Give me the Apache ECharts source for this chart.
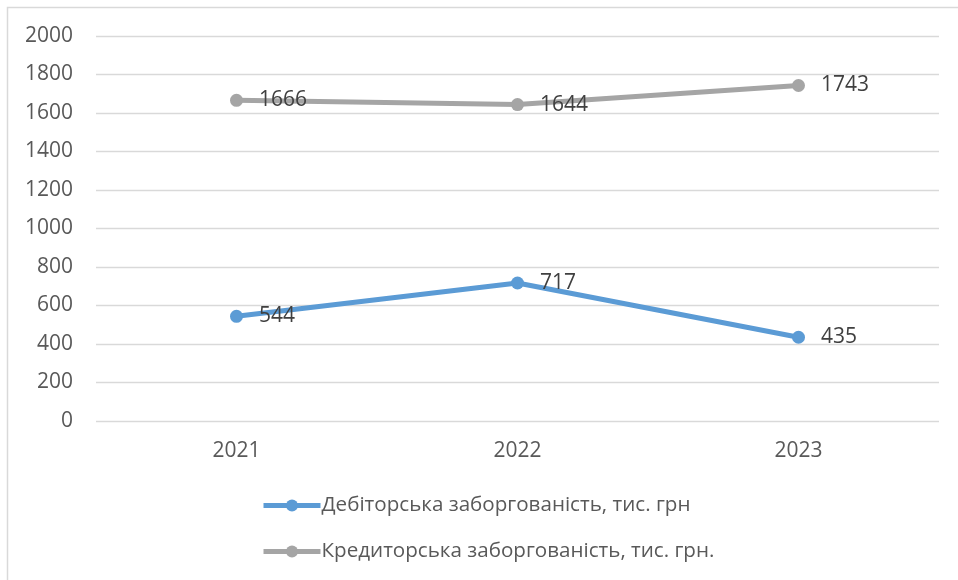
<!DOCTYPE html>
<html><head><meta charset="utf-8">
<script src="https://cdn.jsdelivr.net/npm/echarts@6/dist/echarts.min.js"></script>
<style>html,body{margin:0;padding:0;background:#fff}#c{width:958px;height:580px}</style>
</head><body><div id="c"></div>
<script>
const categories = ['2021', '2022', '2023'];
const debtReceivable = [544, 717, 435];
const debtPayable = [1666, 1644, 1743];
const seriesNames = ['Дебіторська заборгованість, тис. грн', 'Кредиторська заборгованість, тис. грн.'];

const font = '"Open Sans", "Noto Sans", sans-serif';
const fs = 21;
const chart = echarts.init(document.getElementById('c'), null, {renderer: 'canvas'});
chart.setOption({
  backgroundColor: '#fff',
  animation: false,
  graphic: [{type: 'rect', shape: {x: 7.5, y: 7.5, width: 1000, height: 1000}, style: {fill: 'none', stroke: '#D9D9D9', lineWidth: 1.5}, silent: true}],
  grid: {left: 96, right: 19, top: 36, bottom: 159},
  xAxis: {
    type: 'category', data: categories, boundaryGap: true,
    axisLine: {show: false}, axisTick: {show: false},
    axisLabel: {color: '#595959', fontSize: fs, fontFamily: font, margin: 20}
  },
  yAxis: {
    type: 'value', min: 0, max: 2000, interval: 200,
    axisLine: {show: false}, axisTick: {show: false},
    splitLine: {lineStyle: {color: '#D9D9D9', width: 1.3}},
    axisLabel: {color: '#595959', fontSize: fs, fontFamily: font, margin: 23, formatter: v => String(v)}
  },
  legend: {
    orient: 'vertical', left: 256, top: 490, itemGap: 25,
    itemWidth: 57, itemHeight: 15,
    lineStyle: {width: 5},
    textStyle: {color: '#595959', fontSize: 20.6, fontFamily: font, padding: [0,0,0,-4]},
    data: seriesNames
  },
  series: [
    {name: seriesNames[0], type: 'line', data: debtReceivable, color: '#5B9BD5',
     lineStyle: {width: 5, color: '#5B9BD5'}, symbol: 'circle', symbolSize: 13,
     itemStyle: {color: '#5B9BD5'},
     label: {show: true, position: 'right', distance: 16, color: '#404040', fontSize: fs, fontFamily: font}},
    {name: seriesNames[1], type: 'line', data: debtPayable, color: '#A5A5A5',
     lineStyle: {width: 5, color: '#A5A5A5'}, symbol: 'circle', symbolSize: 13,
     itemStyle: {color: '#A5A5A5'},
     label: {show: true, position: 'right', distance: 16, color: '#404040', fontSize: fs, fontFamily: font}}
  ]
});
</script></body></html>
